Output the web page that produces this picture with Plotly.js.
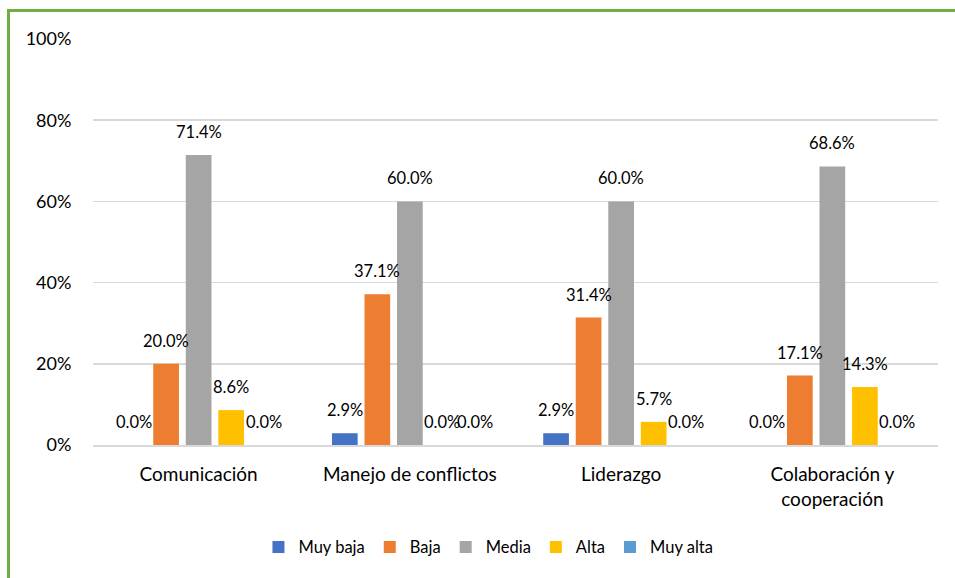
<!DOCTYPE html>
<html><head><meta charset="utf-8">
<script src="https://cdn.plot.ly/plotly-3.0.1.min.js"></script>
<style>
html,body{margin:0;padding:0;background:#fff;}
#frame{position:absolute;left:7px;top:9px;width:1000px;height:1000px;border-left:3px solid #70AD47;border-top:3px solid #70AD47;box-sizing:border-box;pointer-events:none;z-index:2;}
#chart{position:absolute;left:0;top:0;width:955px;height:578px;}
</style></head>
<body>
<div id="chart"></div>
<div id="frame"></div>
<script>
const categories = ["Comunicación", "Manejo de conflictos", "Liderazgo", "Colaboración y<br>cooperación"];
const seriesNames = ["Muy baja", "Baja", "Media", "Alta", "Muy alta"];
const muyBaja = [0.000, 0.029, 0.029, 0.000];
const baja    = [0.200, 0.371, 0.314, 0.171];
const media   = [0.714, 0.600, 0.600, 0.686];
const alta    = [0.086, 0.000, 0.057, 0.143];
const muyAlta = [0.000, 0.000, 0.000, 0.000];
const colors = ["#4472C4", "#ED7D31", "#A5A5A5", "#FFC000", "#5B9BD5"];
const yTicks = [0, 0.2, 0.4, 0.6, 0.8, 1.0];

const values = [muyBaja, baja, media, alta, muyAlta];
const font = "Lato, 'Open Sans', sans-serif";
const BARGAP = 0.23, GROUPGAP = 0.21;
const nSeries = values.length;
const slot = (1 - BARGAP) / nSeries;

const traces = values.map((v, i) => ({
  type: 'bar',
  name: seriesNames[i],
  x: categories,
  y: v,
  marker: {color: colors[i]},
  hoverinfo: 'none'
}));

// data labels as annotations, anchored on the category scale
const annotations = [];
values.forEach((v, i) => {
  v.forEach((val, j) => {
    annotations.push({
      xref: 'x', yref: 'y',
      x: j + (i - (nSeries - 1) / 2) * slot,
      y: val,
      text: (val * 100).toFixed(1) + '%',
      showarrow: false,
      xanchor: 'center', yanchor: 'bottom',
      yshift: 11,
      font: {family: font, size: 16.5, color: '#000'}
    });
  });
});

const layout = {
  width: 955, height: 578,
  margin: {l: 93, r: 17, t: 39, b: 133},
  paper_bgcolor: '#fff', plot_bgcolor: '#fff',
  barmode: 'group',
  bargap: BARGAP,
  bargroupgap: GROUPGAP,
  font: {family: font, size: 17, color: '#000'},
  showlegend: true,
  annotations: annotations,
  legend: {orientation: 'h', x: 0.468, xanchor: 'center', y: -0.252, yanchor: 'middle',
           font: {family: font, size: 16.5, color: '#000'}, itemwidth: 30, traceorder: 'normal'},
  xaxis: {
    type: 'category',
    showgrid: false,
    showline: true, linecolor: '#D9D9D9', linewidth: 1.5,
    ticks: 'outside', ticklen: 12, tickcolor: 'rgba(0,0,0,0)',
    tickfont: {family: font, size: 19, color: '#000'},
    zeroline: false
  },
  yaxis: {
    range: [0, 1.0],
    tickvals: yTicks,
    tickformat: '.0%',
    showgrid: true, gridcolor: '#D9D9D9', gridwidth: 1.5,
    zeroline: false,
    showline: false,
    ticks: 'outside', ticklen: 17, tickcolor: 'rgba(0,0,0,0)',
    tickfont: {family: font, size: 18, color: '#000'}
  }
};
Plotly.newPlot('chart', traces, layout, {staticPlot: true, displayModeBar: false});
</script>
</body></html>
